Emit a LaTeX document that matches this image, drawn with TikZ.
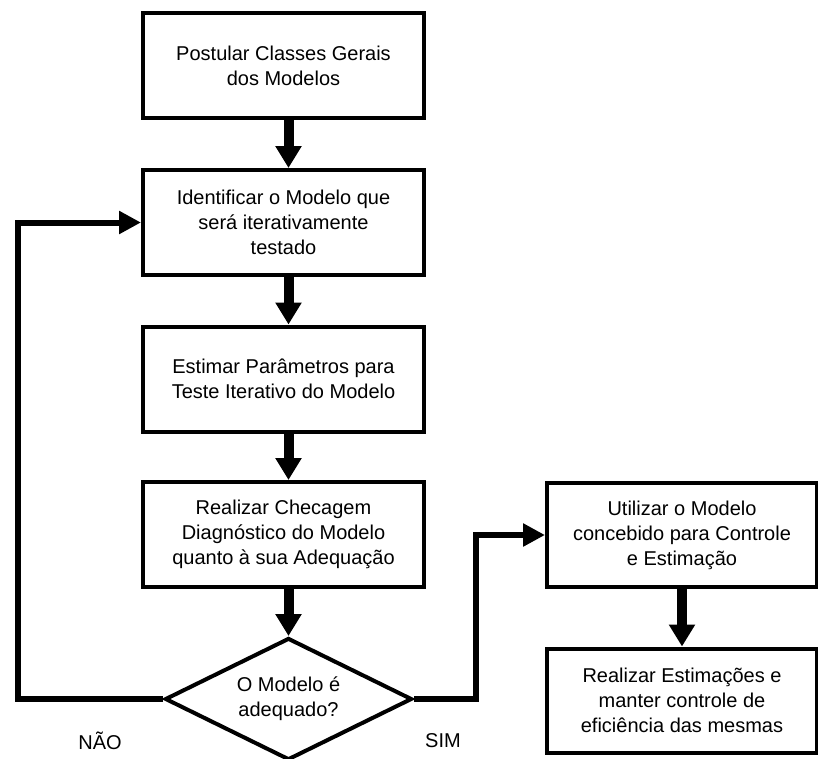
\documentclass[tikz,border=0pt]{standalone}
\usepackage{fontspec}
\setmainfont{Liberation Sans}
\usetikzlibrary{arrows.meta,shapes.geometric}
\begin{document}
\begin{tikzpicture}[x=1pt,y=-1pt,
  box/.style={draw,line width=4pt,align=center,font=\fontsize{20}{25}\selectfont,inner sep=0pt},
  lbox/.style={box,minimum width=281pt,minimum height=105pt},
  rbox/.style={box,minimum width=270pt,minimum height=104pt},
  flow/.style={line width=10pt,-{Triangle[width=25pt,length=22pt]}},
  back/.style={line width=6pt,-{Triangle[width=22pt,length=22pt]}},
  lbl/.style={font=\fontsize{20}{25}\selectfont,inner sep=0pt}]
\useasboundingbox (0,0) rectangle (818,758);
\node[lbox] (b1) at (283.5,65.5) {Postular Classes Gerais\\dos Modelos};
\node[lbox] (b2) at (283.5,222.5) {Identificar o Modelo que\\será iterativamente\\testado};
\node[lbox] (b3) at (283.5,379) {Estimar Parâmetros para\\Teste Iterativo do Modelo};
\node[lbox] (b4) at (283.5,534.5) {Realizar Checagem\\Diagnóstico do Modelo\\quanto à sua Adequação};
\node[box,diamond,aspect=2.02,minimum width=247pt,minimum height=122pt] (d) at (288.5,699) {O Modelo é\\adequado?};
\node[rbox] (b5) at (682,535) {Utilizar o Modelo\\concebido para Controle\\e Estimação};
\node[rbox] (b6) at (682,700.5) {Realizar Estimações e\\manter controle de\\eficiência das mesmas};
\node[lbl] (nao) at (100,741) {NÃO};
\node[lbl] (sim) at (443,741) {SIM};
\coordinate (nl) at (18,222.5);
\coordinate (sl) at (476,535);
\draw[flow] (b1.south -| d.north) -- (b2.north -| d.north);
\draw[flow] (b2.south -| d.north) -- (b3.north -| d.north);
\draw[flow] (b3.south -| d.north) -- (b4.north -| d.north);
\draw[flow] (b4.south -| d.north) -- (d.north);
\draw[flow] (b5.south) -- (b6.north);
\draw[back] (d.west) -| (nl) -- (b2.west);
\draw[back] (d.east) -| (sl) -- (b5.west);
\end{tikzpicture}
\end{document}
